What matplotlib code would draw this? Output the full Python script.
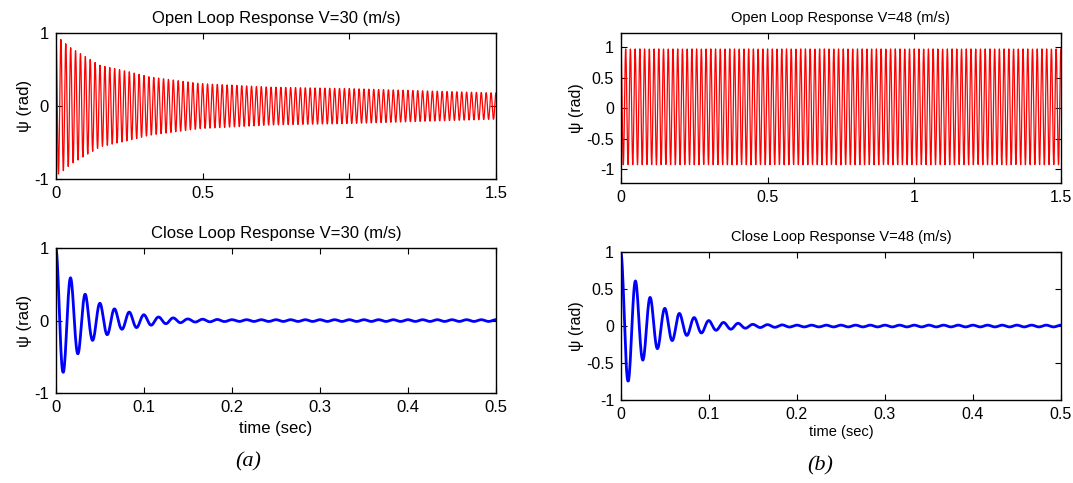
import numpy as np
import matplotlib
matplotlib.use('Agg')
import matplotlib.pyplot as plt

plt.rcParams['font.family'] = ['Liberation Sans', 'DejaVu Sans']

# envelope of the oscillation (time, amplitude) and its frequency
open30_t = [0, 0.015, 0.05, 0.1, 0.15, 0.25, 0.32, 0.49, 0.73, 1.0, 1.25, 1.5]
open30_amp = [0.95, 0.92, 0.8, 0.68, 0.56, 0.47, 0.4, 0.31, 0.26, 0.24, 0.21, 0.18]
open30_freq = 60.0

open48_t = [0, 0.5, 1.0, 1.5]
open48_amp = [0.95, 0.95, 0.95, 0.95]
open48_offset = 0.02
open48_freq = 62.0

close30_t = [0, 0.008, 0.016, 0.024, 0.032, 0.04, 0.048, 0.057, 0.065, 0.074, 0.082, 0.09,
             0.1, 0.115, 0.13, 0.15, 0.2, 0.5]
close30_amp = [1.0, 0.72, 0.6, 0.47, 0.38, 0.28, 0.25, 0.2, 0.17, 0.12, 0.12, 0.1,
               0.08, 0.05, 0.04, 0.022, 0.012, 0.012]
close48_t = [0, 0.008, 0.016, 0.024, 0.032, 0.04, 0.048, 0.057, 0.065, 0.073, 0.081, 0.089,
             0.097, 0.106, 0.114, 0.13, 0.15, 0.2, 0.5]
close48_amp = [1.0, 0.75, 0.62, 0.47, 0.4, 0.32, 0.25, 0.2, 0.18, 0.13, 0.12, 0.1,
               0.08, 0.06, 0.05, 0.04, 0.022, 0.012, 0.012]
close_freq = 60.0


def wave(t_env, amp_env, freq, t_end, dt, offset=0.0):
    t = np.arange(0, t_end + dt / 2, dt)
    return t, offset + np.interp(t, t_env, amp_env) * np.cos(2 * np.pi * freq * t)


def style(ax, xlim, xticks, ylim, yticks, fs):
    ax.set_xlim(*xlim)
    ax.set_ylim(*ylim)
    ax.set_xticks(xticks)
    ax.set_yticks(yticks)
    ax.set_xticklabels([f'{v:g}' for v in xticks])
    ax.set_yticklabels([f'{v:g}' for v in yticks])
    ax.tick_params(direction='in', top=True, right=True, length=4, labelsize=fs, pad=5)
    for s in ax.spines.values():
        s.set_linewidth(1.0)


fig = plt.figure(figsize=(10.73, 4.83), dpi=100)

ax1 = fig.add_axes([0.0522, 0.6294, 0.410, 0.302])
t, y = wave(open30_t, open30_amp, open30_freq, 1.5, 0.0005)
ax1.plot(t, y, color='red', lw=0.9)
style(ax1, (0, 1.5), [0, 0.5, 1, 1.5], (-1, 1), [-1, 0, 1], 12)
ax1.set_title('Open Loop Response V=30 (m/s)', fontsize=12, pad=7)
ax1.set_ylabel('ψ (rad)', fontsize=12, labelpad=2)

ax2 = fig.add_axes([0.0522, 0.1863, 0.410, 0.300])
t, y = wave(close30_t, close30_amp, close_freq, 0.5, 0.0005)
ax2.plot(t, y, color='blue', lw=2)
style(ax2, (0, 0.5), [0, 0.1, 0.2, 0.3, 0.4, 0.5], (-1, 1), [-1, 0, 1], 12)
ax2.set_title('Close Loop Response V=30 (m/s)', fontsize=12, pad=7)
ax2.set_ylabel('ψ (rad)', fontsize=12, labelpad=2)
ax2.set_xlabel('time (sec)', fontsize=12, labelpad=4)

ax3 = fig.add_axes([0.5787, 0.621, 0.410, 0.3106])
t, y = wave(open48_t, open48_amp, open48_freq, 1.5, 0.0005, open48_offset)
ax3.plot(t, y, color='red', lw=0.9)
style(ax3, (0, 1.5), [0, 0.5, 1, 1.5], (-1.23, 1.23), [-1, -0.5, 0, 0.5, 1], 11.5)
ax3.set_title('Open Loop Response V=48 (m/s)', fontsize=10.5, pad=8)
ax3.set_ylabel('ψ (rad)', fontsize=11.5, labelpad=2)

ax4 = fig.add_axes([0.5787, 0.1718, 0.410, 0.3064])
t, y = wave(close48_t, close48_amp, close_freq, 0.5, 0.0005)
ax4.plot(t, y, color='blue', lw=2)
style(ax4, (0, 0.5), [0, 0.1, 0.2, 0.3, 0.4, 0.5], (-1, 1), [-1, -0.5, 0, 0.5, 1], 11.5)
ax4.set_title('Close Loop Response V=48 (m/s)', fontsize=10.5, pad=8)
ax4.set_ylabel('ψ (rad)', fontsize=11.5, labelpad=2)
ax4.set_xlabel('time (sec)', fontsize=10.5, labelpad=2)

fig.text(248 / 1073, 1 - 462 / 483, '(a)', family='Liberation Serif', style='italic',
         fontsize=16, ha='center', va='center')
fig.text(820 / 1073, 1 - 466 / 483, '(b)', family='Liberation Serif', style='italic',
         fontsize=16, ha='center', va='center')

fig.savefig('out.png', dpi=100)
